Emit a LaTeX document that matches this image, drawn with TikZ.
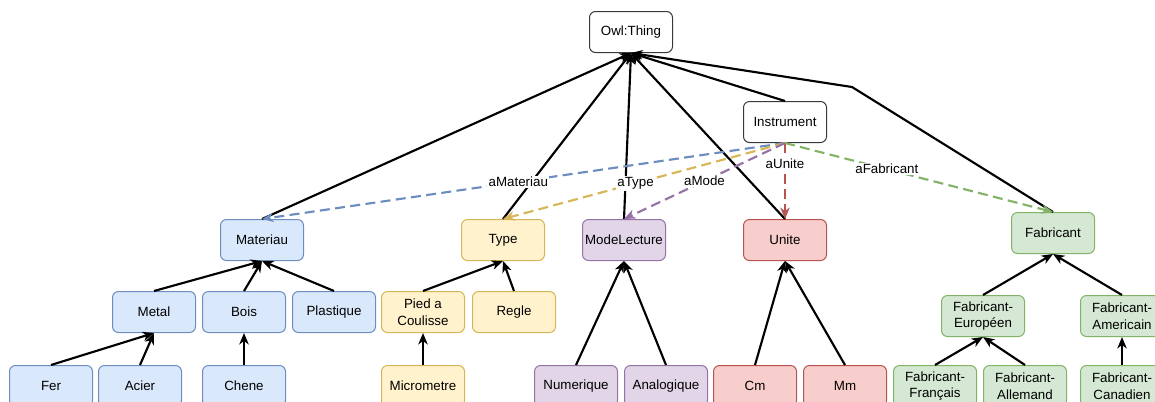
\documentclass[tikz,border=0pt]{standalone}
\usepackage{fontspec}
\setmainfont{Liberation Sans}
\usetikzlibrary{arrows.meta,positioning}
\definecolor{MatFill}{HTML}{DAE8FC}
\definecolor{MatLine}{HTML}{6C8EBF}
\definecolor{TypFill}{HTML}{FFF2CC}
\definecolor{TypLine}{HTML}{D6B656}
\definecolor{ModFill}{HTML}{E1D5E7}
\definecolor{ModLine}{HTML}{9673A6}
\definecolor{UniFill}{HTML}{F8CECC}
\definecolor{UniLine}{HTML}{B85450}
\definecolor{FabFill}{HTML}{D5E8D4}
\definecolor{FabLine}{HTML}{82B366}
\definecolor{BoxGray}{HTML}{36393D}

\begin{document}
\begin{tikzpicture}[x=0.75pt,y=-0.75pt,>={Stealth[length=8.5pt,width=7pt,inset=2.5pt]},
    cls/.style={draw,rounded corners=4.5pt,minimum width=62.25pt,minimum height=30.75pt,
      align=center,line width=0.75pt,inner sep=1pt,font=\fontsize{10}{12.5}\selectfont},
    plainbox/.style={cls,draw=BoxGray,fill=white},
    matbox/.style={cls,draw=MatLine,fill=MatFill},
    typbox/.style={cls,draw=TypLine,fill=TypFill},
    modbox/.style={cls,draw=ModLine,fill=ModFill},
    unibox/.style={cls,draw=UniLine,fill=UniFill},
    fabbox/.style={cls,draw=FabLine,fill=FabFill},
    isa/.style={->,line width=1.6pt},
    rel/.style={->,line width=1.6pt,dash pattern=on 7.5pt off 4pt},
    lbl/.style={fill=white,inner sep=1pt,font=\fontsize{10}{12}\selectfont}]
  \useasboundingbox (0,0) rectangle (1155,401);
  \clip (0,0) rectangle (1155,401);

  % top
  \node[plainbox] (thing) at (631,32) {Owl:Thing};
  \node[plainbox] (instr) at (785,122) {Instrument};
  % classes
  \node[matbox] (mat)  at (262,240) {Materiau};
  \node[typbox] (typ)  at (503,240) {Type};
  \node[modbox] (mode) at (624,240) {ModeLecture};
  \node[unibox] (unite) at (785,240) {Unite};
  \node[fabbox] (fab)  at (1053,233) {Fabricant};
  % second row
  \node[matbox] (metal) at (154,312) {Metal};
  \node[matbox] (bois)  at (244,312) {Bois};
  \node[matbox] (plast) at (334,312) {Plastique};
  \node[typbox] (pied)  at (423,312) {Pied a\\Coulisse};
  \node[typbox] (regle) at (514,312) {Regle};
  \node[fabbox] (fabeu) at (983,316) {Fabricant-\\Européen};
  \node[fabbox] (fabam) at (1122,316) {Fabricant-\\Americain};
  % third row
  \node[matbox] (fer)   at (51,386) {Fer};
  \node[matbox] (acier) at (140,386) {Acier};
  \node[matbox] (chene) at (244,386) {Chene};
  \node[typbox] (micro) at (423,386) {Micrometre};
  \node[modbox] (num)   at (576,386) {Numerique};
  \node[modbox] (ana)   at (666,386) {Analogique};
  \node[unibox] (cm)    at (755,386) {Cm};
  \node[unibox] (mm)    at (845,386) {Mm};
  \node[fabbox] (fabfr) at (935,386) {Fabricant-\\Français};
  \node[fabbox] (fabal) at (1025,386) {Fabricant-\\Allemand};
  \node[fabbox] (fabca) at (1122,386) {Fabricant-\\Canadien};

  % subclass links
  \coordinate (bendfab) at (852,87);
  \foreach \c in {mat,typ,mode,unite,instr}
    \draw[isa] (\c.north) -- (thing.south);
  \draw[isa] (fab.north) -- (bendfab) -- (thing.south);
  \foreach \c/\p in {metal/mat,bois/mat,plast/mat,fer/metal,acier/metal,chene/bois,
      pied/typ,regle/typ,micro/pied,num/mode,ana/mode,cm/unite,mm/unite,
      fabeu/fab,fabam/fab,fabfr/fabeu,fabal/fabeu,fabca/fabam}
    \draw[isa] (\c.north) -- (\p.south);

  % object properties
  \draw[rel,MatLine] (instr.south) -- node[lbl,pos=0.51,text=black]{aMateriau} (mat.north);
  \draw[rel,TypLine] (instr.south) -- node[lbl,pos=0.53,text=black]{aType} (typ.north);
  \draw[rel,ModLine] (instr.south) -- node[lbl,pos=0.5,text=black]{aMode} (mode.north);
  \draw[rel,UniLine] (instr.south) -- node[lbl,pos=0.27,text=black]{aUnite} (unite.north);
  \draw[rel,FabLine] (instr.south) -- node[lbl,pos=0.38,text=black]{aFabricant} (fab.north);
\end{tikzpicture}
\end{document}
